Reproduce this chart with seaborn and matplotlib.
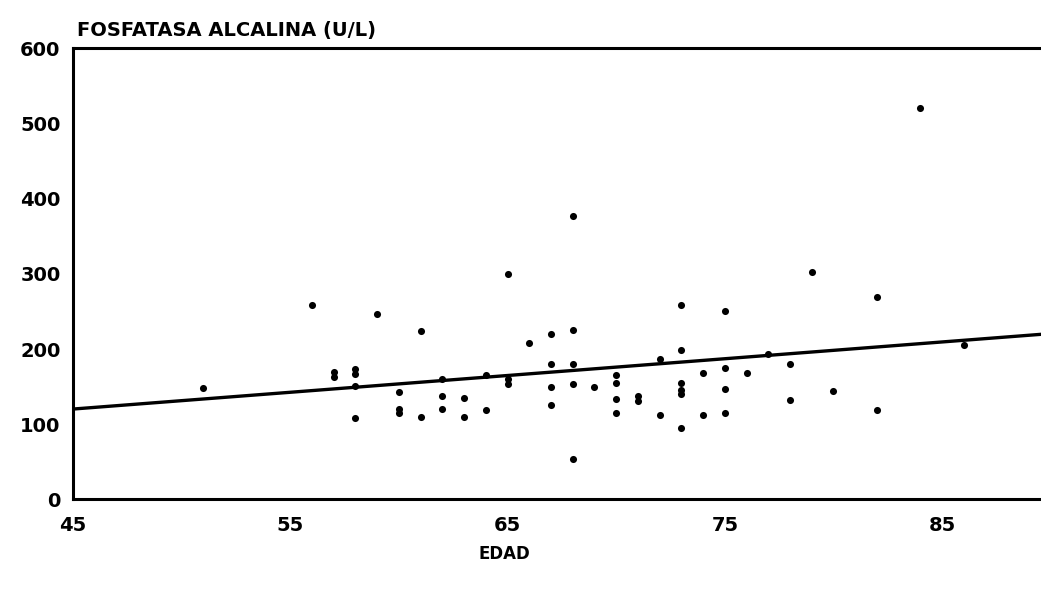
import matplotlib
matplotlib.use("Agg")
import matplotlib.pyplot as plt
import seaborn as sns
import pandas as pd

# Age (years) and alkaline phosphatase (U/L) for each patient
edad = [51, 56, 57, 57, 58, 58, 58, 58, 59, 60, 60, 60, 61, 61,
        62, 62, 62, 63, 63, 64, 64, 65, 65, 65, 66, 67, 67, 67, 67,
        68, 68, 68, 68, 68, 69, 70, 70, 70, 70, 71, 71, 72, 72,
        73, 73, 73, 73, 73, 73, 74, 74, 75, 75, 75, 75, 76, 77,
        78, 78, 79, 80, 82, 82, 84, 86]
fosfatasa = [148, 258, 170, 163, 173, 167, 151, 108, 247, 143, 120, 115, 224, 110,
             160, 137, 120, 135, 110, 166, 119, 300, 160, 153, 208, 220, 180, 150, 126,
             377, 225, 180, 153, 54, 150, 166, 155, 133, 115, 137, 131, 187, 112,
             258, 199, 155, 145, 140, 95, 168, 113, 250, 175, 147, 115, 168, 193,
             180, 132, 303, 144, 269, 119, 520, 205]

x_ticks = [45, 55, 65, 75, 85]
y_ticks = [0, 100, 200, 300, 400, 500, 600]

df = pd.DataFrame({"EDAD": edad, "FA": fosfatasa})

sns.set_style("white")
plt.rcParams["font.family"] = ["DejaVu Sans"]
plt.rcParams["font.weight"] = "bold"
plt.rcParams["text.color"] = "black"
plt.rcParams["axes.labelcolor"] = "black"
plt.rcParams["xtick.color"] = "black"
plt.rcParams["ytick.color"] = "black"

fig = plt.figure(figsize=(10.41, 5.89), dpi=100)
ax = fig.add_axes([0.0701, 0.152, 0.9299, 0.766])
ax.set_xlim(45, 89.55)
ax.set_ylim(0, 600)

sns.scatterplot(data=df, x="EDAD", y="FA", ax=ax, color="black",
                s=26, edgecolor="black", linewidth=0, zorder=3)
sns.regplot(data=df, x="EDAD", y="FA", ax=ax, scatter=False, ci=None,
            truncate=False, color="black", line_kws={"linewidth": 2.4})

ax.set_xlim(45, 89.55)
ax.set_ylim(0, 600)
ax.set_xticks(x_ticks)
ax.set_yticks(y_ticks)
ax.set_xticklabels([str(t) for t in x_ticks], fontsize=14, fontweight="bold")
ax.set_yticklabels([str(t) for t in y_ticks], fontsize=14, fontweight="bold")

ax.tick_params(axis="x", direction="in", length=9, width=2.2, pad=12,
               color="black", labelcolor="black")
ax.tick_params(axis="y", direction="in", length=7, width=1.8, pad=9,
               color="black", labelcolor="black")

for side in ["left", "bottom", "top"]:
    ax.spines[side].set_visible(True)
    ax.spines[side].set_linewidth(2.2)
    ax.spines[side].set_color("black")
ax.spines["right"].set_visible(False)

ax.set_xlabel("EDAD", fontsize=12, fontweight="bold", color="black")
ax.xaxis.set_label_coords(0.446, -0.10)
ax.set_ylabel("")

fig.text(0.0735, 0.949, "FOSFATASA ALCALINA (U/L)", fontsize=14,
         fontweight="bold", ha="left", va="center", color="black")

fig.savefig("out.png", dpi=100)
